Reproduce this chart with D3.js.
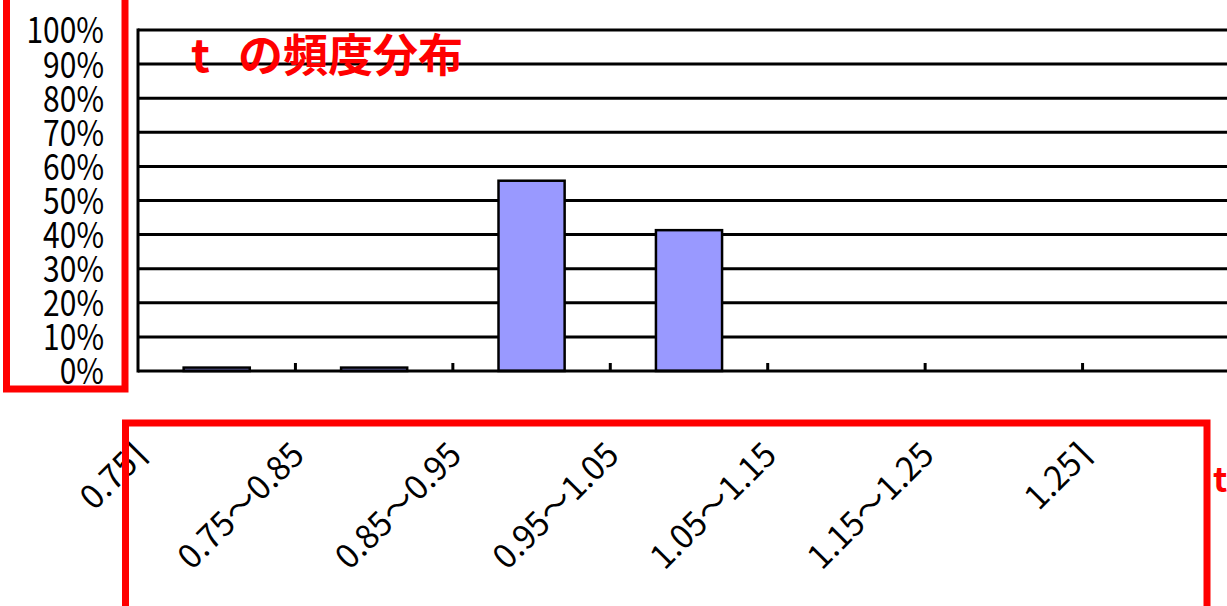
<!DOCTYPE html>
<html>
<head>
<meta charset="utf-8">
<script src="https://cdn.jsdelivr.net/npm/d3@7"></script>
<style>
  body { margin: 0; background: #fff; }
  svg { display: block; font-family: "Noto Sans CJK JP", "DejaVu Sans", sans-serif; }
</style>
</head>
<body>
<script>
// data
var categories = ["0.75⌉", "0.75〜0.85", "0.85〜0.95", "0.95〜1.05", "1.05〜1.15", "1.15〜1.25", "1.25⌉"];
var shares = [1.0, 1.0, 55.8, 41.3, 0, 0, 0];
var yTicks = [0, 10, 20, 30, 40, 50, 60, 70, 80, 90, 100];
var titleText = ["t", "の頻度分布"];
var axisTitle = "t";

var W = 1227, H = 606;
var plot = {left: 138, right: 1240, top: 30, bottom: 371};

var svg = d3.select("body").append("svg")
    .attr("width", W)
    .attr("height", H);

var x = d3.scaleBand()
    .domain(categories)
    .range([plot.left, plot.right])
    .padding(0);

var y = d3.scaleLinear()
    .domain([0, 100])
    .range([plot.bottom, plot.top]);

// gridlines
svg.append("g")
    .selectAll("line")
    .data(yTicks.filter(function(d) { return d > 0; }))
    .enter()
    .append("line")
    .attr("x1", plot.left)
    .attr("x2", plot.right)
    .attr("y1", function(d) { return y(d); })
    .attr("y2", function(d) { return y(d); })
    .attr("stroke", "#000")
    .attr("stroke-width", 3);

// y labels (tall, narrow look of the original font)
var yAxis = d3.axisLeft(y)
    .tickValues(yTicks)
    .tickSize(0)
    .tickPadding(0)
    .tickFormat(function(d) { return d + "%"; });
var yAxisGroup = svg.append("g")
    .attr("transform", "translate(104,0)")
    .call(yAxis);
yAxisGroup.select(".domain").remove();
yAxisGroup.selectAll("text")
    .attr("font-size", 30)
    .attr("font-family", "Noto Sans CJK JP")
    .attr("fill", "#000")
    .attr("dy", "0.36em")
    .attr("transform", "scale(1,1.2)");

// bars
var barW = x.bandwidth() * 0.42;
svg.append("g")
    .selectAll("rect")
    .data(shares)
    .enter()
    .append("rect")
    .filter(function(d) { return d > 0; })
    .attr("x", function(d, i) { return x(categories[i]) + (x.bandwidth() - barW) / 2; })
    .attr("y", function(d) { return y(d); })
    .attr("width", barW)
    .attr("height", function(d) { return y(0) - y(d); })
    .attr("fill", "#9999ff")
    .attr("stroke", "#000")
    .attr("stroke-width", 2.5);

// plot frame: left side
svg.append("line")
    .attr("x1", plot.left).attr("x2", plot.left)
    .attr("y1", plot.top - 1.5).attr("y2", plot.bottom + 1.5)
    .attr("stroke", "#000").attr("stroke-width", 3);

// category axis line and inner ticks at band edges
svg.append("line")
    .attr("x1", plot.left).attr("x2", plot.right)
    .attr("y1", y(0)).attr("y2", y(0))
    .attr("stroke", "#000").attr("stroke-width", 3);

svg.append("g")
    .selectAll("line")
    .data(categories.slice(1))
    .enter()
    .append("line")
    .attr("x1", function(d) { return x(d); })
    .attr("x2", function(d) { return x(d); })
    .attr("y1", y(0))
    .attr("y2", y(0) - 8)
    .attr("stroke", "#000")
    .attr("stroke-width", 3);

// rotated category labels
svg.append("g")
    .selectAll("text")
    .data(categories)
    .enter()
    .append("text")
    .attr("transform", function(d) {
        var cx = x(d) + x.bandwidth() / 2 - 68;
        return "translate(" + cx + ",457) rotate(-45)";
    })
    .attr("text-anchor", "end")
    .attr("font-size", 33)
    .attr("fill", "#000")
    .text(function(d) { return d; });

// title
var title = svg.append("text")
    .attr("y", 72)
    .attr("font-size", 45)
    .attr("font-weight", "bold")
    .attr("fill", "#ff0000");
title.append("tspan").attr("x", 191).text(titleText[0]);
title.append("tspan").attr("x", 238).text(titleText[1]);

// axis title, cut at the right edge
svg.append("text")
    .attr("x", 1213)
    .attr("y", 492)
    .attr("font-size", 34)
    .attr("font-weight", "bold")
    .attr("fill", "#ff0000")
    .text(axisTitle);

// red highlight boxes
svg.append("rect")
    .attr("x", 6.5).attr("y", -10)
    .attr("width", 118.5).attr("height", 399)
    .attr("fill", "none")
    .attr("stroke", "#ff0000")
    .attr("stroke-width", 7);

svg.append("rect")
    .attr("x", 125.5).attr("y", 423)
    .attr("width", 1081.5).attr("height", 200)
    .attr("fill", "none")
    .attr("stroke", "#ff0000")
    .attr("stroke-width", 7);
</script>
</body>
</html>
